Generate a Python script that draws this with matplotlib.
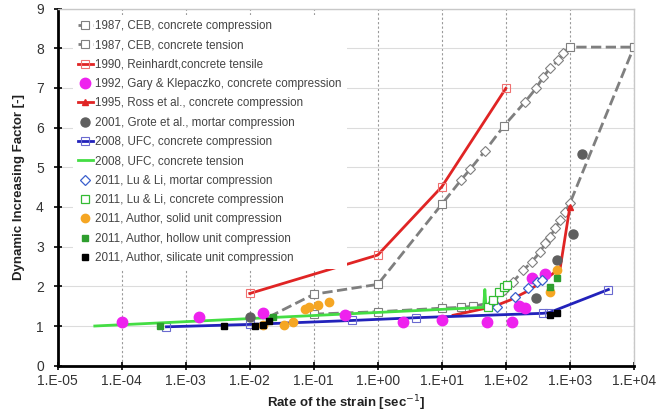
import numpy as np
import matplotlib
matplotlib.use("Agg")
import matplotlib.pyplot as plt
from matplotlib.ticker import FixedLocator, FuncFormatter

plt.rcParams['font.family'] = ['Liberation Sans', 'DejaVu Sans']

# 1987 CEB, concrete compression
ceb_c_x = [0.1, 1, 10, 20, 31, 64, 92, 131, 188, 255, 344, 411, 492, 589, 705, 844, 1000, 10000]
ceb_c_y = [1.30, 1.36, 1.45, 1.47, 1.50, 1.60, 1.91, 2.12, 2.41, 2.62, 2.87, 3.08, 3.25, 3.46, 3.67, 3.88, 4.09, 8.03]
# 1987 CEB, concrete tension
ceb_t_x = [0.02, 0.1, 1, 10, 20, 28, 47, 93, 200, 296, 386, 492, 660, 790, 1000, 10000]
ceb_t_y = [1.23, 1.80, 2.05, 4.07, 4.68, 4.96, 5.41, 6.04, 6.65, 6.99, 7.28, 7.50, 7.70, 7.88, 8.03, 8.03]
# 1990 Reinhardt
rein_x = [0.01, 1, 10, 100]
rein_y = [1.82, 2.79, 4.51, 6.99]
# 1992 Gary & Klepaczko
gary_x = [1e-4, 1.6e-3, 0.016, 0.31, 2.5, 10, 50, 124, 160, 200, 256, 410]
gary_y = [1.11, 1.22, 1.32, 1.28, 1.11, 1.15, 1.11, 1.11, 1.50, 1.45, 2.20, 2.31]
# 1995 Ross et al.
ross_x = [15, 64, 115, 207, 375, 640, 705, 1000]
ross_y = [1.27, 1.49, 1.65, 1.86, 2.12, 2.41, 2.45, 4.00]
# 2001 Grote et al.
grote_x = [0.01, 295, 630, 1100, 1550]
grote_y = [1.22, 1.70, 2.66, 3.33, 5.33]
# 2008 UFC
ufc_c_x = [5e-4, 0.01, 0.4, 4, 380, 480, 4000]
ufc_c_y = [0.98, 1.04, 1.14, 1.21, 1.32, 1.34, 1.92]
ufc_t_x = [3.8e-5, 45, 47, 49, 64]
ufc_t_y = [1.00, 1.47, 1.92, 1.48, 1.50]
# 2011 Lu & Li
lu_m_x = [72, 140, 225, 305, 365]
lu_m_y = [1.49, 1.74, 1.95, 2.12, 2.16]
lu_c_x = [53, 64, 77, 92, 104]
lu_c_y = [1.49, 1.66, 1.86, 1.99, 2.03]
# 2011 Author
solid_x = [0.016, 0.034, 0.048, 0.073, 0.083, 0.117, 0.17, 492, 630]
solid_y = [1.03, 1.03, 1.11, 1.42, 1.47, 1.53, 1.61, 1.86, 2.41]
hollow_x = [4e-4, 0.023, 492, 630]
hollow_y = [1.00, 1.22, 1.99, 2.20]
silic_x = [4e-3, 0.012, 0.016, 0.020, 492, 630]
silic_y = [1.00, 1.00, 1.03, 1.13, 1.28, 1.32]

fig = plt.figure(figsize=(6.57, 4.12), dpi=100)
ax = fig.add_axes([0.0878, 0.1124, 0.877, 0.8667])

gray = '#7f7f7f'
# CEB lines (squares at main points, diamonds in between)
ax.plot(ceb_c_x, ceb_c_y, ls='--', color=gray, lw=2, marker='s', ms=5.5, mfc='white',
        mec=gray, mew=0.8, markevery=[0, 1, 2, 3, 4, 17], label='1987, CEB, concrete compression')
ax.plot(ceb_c_x, ceb_c_y, ls='none', marker='D', ms=5, mfc='white', mec=gray, mew=0.8,
        markevery=list(range(5, 17)))
ax.plot(ceb_t_x, ceb_t_y, ls='--', color=gray, lw=2, marker='s', ms=5.5, mfc='white',
        mec=gray, mew=0.8, markevery=[1, 2, 3, 7, 14, 15], label='1987, CEB, concrete tension')
ax.plot(ceb_t_x, ceb_t_y, ls='none', marker='D', ms=5, mfc='white', mec=gray, mew=0.8,
        markevery=[4, 5, 6, 8, 9, 10, 11, 12, 13])

ax.plot(rein_x, rein_y, color='#e02424', lw=2, marker='s', ms=6, mfc='none', mec='#f07070',
        mew=0.8, label='1990, Reinhardt,concrete tensile')
ax.plot(gary_x, gary_y, ls='none', marker='o', ms=7.5, color='#ee22ee',
        label='1992, Gary & Klepaczko, concrete compression', zorder=4)
ax.plot(ross_x, ross_y, color='#e02424', lw=2, marker='^', ms=4, markevery=[7],
        label='1995, Ross et al., concrete compression')
ax.plot(grote_x, grote_y, ls='none', marker='o', ms=6.5, color='#5f5f5f',
        label='2001, Grote et al., mortar compression', zorder=4)
ax.plot(ufc_c_x, ufc_c_y, color='#2222bb', lw=2, marker='s', ms=6, mfc='none', mec='#6a6ad0',
        mew=0.8, label='2008, UFC, concrete compression')
ax.plot(ufc_t_x, ufc_t_y, color='#44dd44', lw=2, label='2008, UFC, concrete tension')
ax.plot(lu_m_x, lu_m_y, ls='none', marker='D', ms=5, mfc='white', mec='#3a5fcd', mew=0.9,
        label='2011, Lu & Li, mortar compression', zorder=4)
ax.plot(lu_c_x, lu_c_y, ls='none', marker='s', ms=6, mfc='white', mec='#33bb33', mew=0.9,
        label='2011, Lu & Li, concrete compression', zorder=4)
ax.plot(solid_x, solid_y, ls='none', marker='o', ms=6, color='#f5a623',
        label='2011, Author, solid unit compression', zorder=4)
ax.plot(hollow_x, hollow_y, ls='none', marker='s', ms=4.5, color='#2e9e2e',
        label='2011, Author, hollow unit compression', zorder=4)
ax.plot(silic_x, silic_y, ls='none', marker='s', ms=4, color='black',
        label='2011, Author, silicate unit compression', zorder=4)

ax.set_xscale('log')
ax.set_xlim(1e-5, 1e4)
ax.set_ylim(0, 9)
ax.xaxis.set_major_locator(FixedLocator([10.0 ** k for k in range(-5, 5)]))
ax.xaxis.set_minor_locator(FixedLocator([]))
ax.xaxis.set_major_formatter(FuncFormatter(lambda v, p: "1.E%+03d" % int(round(np.log10(v)))))
ax.set_yticks(range(0, 10))

ax.grid(axis='x', color='#9a9a9a', ls=(0, (2, 2)), lw=0.8)
ax.grid(axis='y', color='#dcdcdc', ls='-', lw=0.8)
ax.set_axisbelow(True)

for s in ['top', 'right']:
    ax.spines[s].set_color('#c8c8c8')
    ax.spines[s].set_linewidth(1)
for s in ['left', 'bottom']:
    ax.spines[s].set_color('black')
    ax.spines[s].set_linewidth(2)

ax.tick_params(axis='both', direction='inout', length=6, width=1.2, labelsize=10,
               labelcolor='#333333')
ax.tick_params(axis='y', pad=7)
ax.tick_params(axis='x', pad=3)

ax.set_ylabel('Dynamic Increasing Factor [-]', fontsize=9.5, fontweight='bold',
              color='#222222', labelpad=8)
ax.set_xlabel('Rate of the strain [sec$^{-1}$]', fontsize=9.5, fontweight='bold',
              color='#222222', labelpad=4)

leg = ax.legend(loc='upper left', bbox_to_anchor=(0.026, 0.983), borderaxespad=0,
                fontsize=8.4, labelspacing=0.63, handlelength=1.3, handletextpad=0.2,
                frameon=True, fancybox=False, framealpha=1, borderpad=0.45)
leg.get_frame().set_facecolor('white')
leg.get_frame().set_edgecolor('none')
for t in leg.get_texts():
    t.set_color('#444444')

fig.savefig('out.png', dpi=100)
